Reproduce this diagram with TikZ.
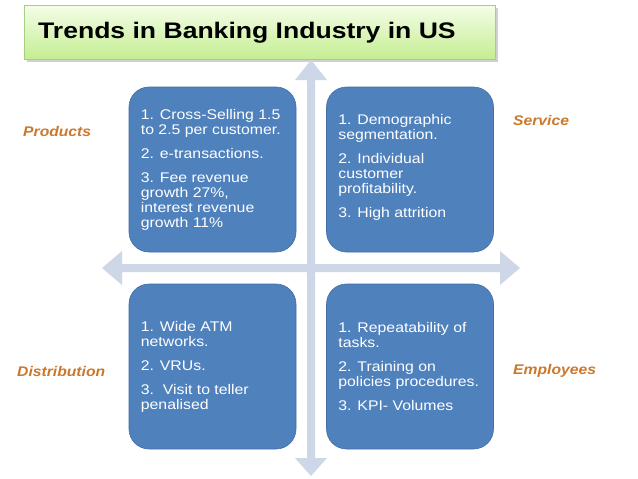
\documentclass[tikz,border=0pt]{standalone}
\usepackage{fontspec}
\setmainfont{Liberation Sans}
\newfontfamily\boxfont[FakeStretch=1.13]{Liberation Sans}
\newfontfamily\titlefont[FakeStretch=1.18]{Liberation Sans}
\newfontfamily\labelfont[FakeStretch=1.12]{Liberation Sans}
\definecolor{boxblue}{RGB}{79,129,189}
\definecolor{boxborder}{RGB}{66,110,165}
\definecolor{arrowblue}{RGB}{206,215,232}
\definecolor{labelorange}{RGB}{204,120,44}
\definecolor{titletop}{RGB}{245,253,232}
\definecolor{titlebot}{RGB}{196,238,146}
\definecolor{titleborder}{RGB}{168,206,130}
\begin{document}
\begin{tikzpicture}[x=1pt,y=-1pt,
  qbox/.style={draw=boxborder, line width=0.6pt, fill=boxblue, rounded corners=20pt,
    minimum width=167pt, minimum height=165pt, inner sep=0pt},
  qtext/.style={text=white, align=left, anchor=west, inner sep=0pt,
    font=\boxfont\fontsize{14}{15}\selectfont},
  side/.style={text=labelorange, inner sep=0pt, anchor=west,
    font=\labelfont\fontsize{14}{16}\selectfont\bfseries\itshape},
  arrowfill/.style={fill=arrowblue, draw=none}]
\useasboundingbox (0,0) rectangle (638,479);
\fill[white] (0,0) rectangle (638,479);
% title
\fill[black!30, opacity=0.6] (27,8) rectangle (498,62);
\shade[top color=titletop, bottom color=titlebot, draw=titleborder, line width=0.5pt]
  (24,5) rectangle (495,59);
\node[anchor=west, inner sep=0pt, font=\titlefont\fontsize{22.5}{26}\selectfont\bfseries]
  (title) at (38,33) {Trends in Banking Industry in US};
% arrows
\fill[arrowfill] (307,80) -- (295,80) -- (311,60) -- (327,80) -- (315,80)
  -- (315,458) -- (327,458) -- (311,476) -- (295,458) -- (307,458) -- cycle;
\fill[arrowfill] (122,264) -- (122,251) -- (102,268) -- (122,285) -- (122,272)
  -- (500,272) -- (500,285) -- (520,268) -- (500,251) -- (500,264) -- cycle;
% boxes
\node[qbox] (tl) at (212.5,169.5) {};
\node[qbox] (tr) at (410,169.5) {};
\node[qbox] (bl) at (212.5,366.5) {};
\node[qbox] (br) at (410,366.5) {};
\node[qtext] (tlt) at ([xshift=12pt]tl.west) {1. Cross-Selling 1.5\\to 2.5 per customer.\\[9pt]2. e-transactions.\\[9pt]3. Fee revenue\\growth 27\%,\\interest revenue\\growth 11\%};
\node[qtext] (trt) at ([xshift=12pt,yshift=2pt]tr.west) {1. Demographic\\segmentation.\\[9pt]2. Individual\\customer\\profitability.\\[9pt]3. High attrition};
\node[qtext] (blt) at ([xshift=12pt]bl.west) {1. Wide ATM\\networks.\\[9pt]2. VRUs.\\[9pt]3.\ \ Visit to teller\\penalised};
\node[qtext] (brt) at ([xshift=12pt]br.west) {1. Repeatability of\\tasks.\\[9pt]2. Training on\\policies procedures.\\[9pt]3. KPI- Volumes};
% side labels
\node[side] (prod) at (23,131) {Products};
\node[side] (dist) at (17,371) {Distribution};
\node[side] (serv) at (513,120) {Service};
\node[side] (empl) at (513,371) {Employees};
\end{tikzpicture}
\end{document}
